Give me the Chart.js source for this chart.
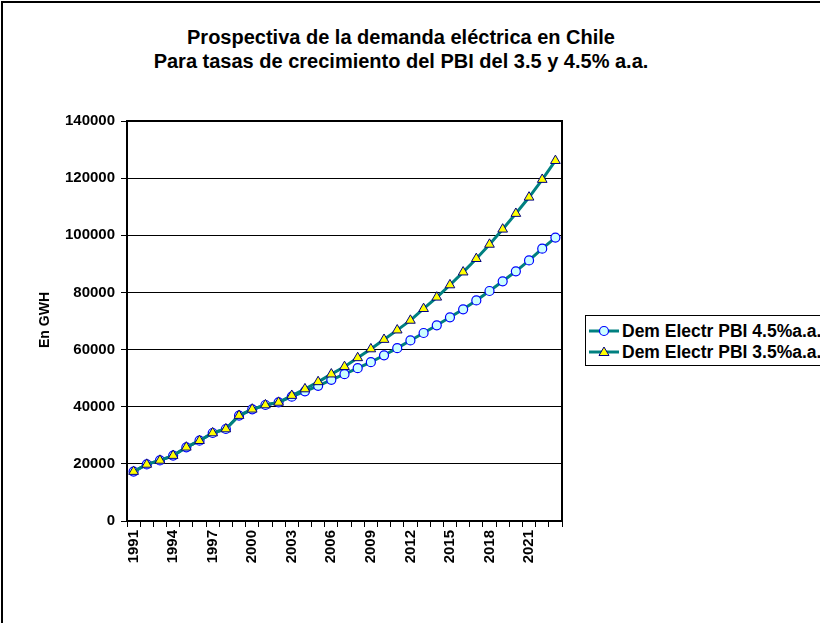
<!DOCTYPE html>
<html>
<head>
<meta charset="utf-8">
<script src="https://cdn.jsdelivr.net/npm/chart.js@4"></script>
<style>
  body { margin: 0; background: #fff; overflow: hidden; font-family: Arial, "Liberation Sans", sans-serif; }
  #frame { position: absolute; left: 1px; top: 1px; width: 1000px; height: 1000px; border-left: 2px solid #000; border-top: 2px solid #000; }
  #wrap { position: absolute; left: 0; top: 0; width: 820px; height: 623px; }
  #title { position: absolute; left: 0; width: 802px; top: 25px; text-align: center; font-weight: bold; font-size: 20px; line-height: 24px; color: #000; }
  #ytitle { position: absolute; left: 44px; top: 320px; transform: translate(-50%, -50%) rotate(-90deg); font-weight: bold; font-size: 14px; white-space: nowrap; color: #000; }
  #legend { position: absolute; left: 585px; top: 315px; width: 300px; height: 49px; border: 1px solid #000; background: #fff; }
  .row { position: absolute; left: 3px; height: 20px; display: flex; align-items: center; font-weight: bold; font-size: 17.5px; white-space: nowrap; }
  .row svg { margin-right: 3px; }
</style>
</head>
<body>
<div id="frame"></div>
<div id="title">Prospectiva de la demanda eléctrica en Chile<br>Para tasas de crecimiento del PBI del 3.5 y 4.5% a.a.</div>
<div id="wrap"><canvas id="chart"></canvas></div>
<div id="ytitle">En GWH</div>
<div id="legend">
  <div class="row" style="top:5px">
    <svg width="30" height="20"><line x1="0" y1="10" x2="30" y2="10" stroke="#008080" stroke-width="3"/><circle cx="15" cy="10" r="4.5" fill="#CCFFFF" stroke="#0000FF" stroke-width="1.2"/></svg>
    Dem Electr PBI 4.5%a.a.
  </div>
  <div class="row" style="top:26px">
    <svg width="30" height="20"><line x1="0" y1="10" x2="30" y2="10" stroke="#008080" stroke-width="3"/><polygon points="15,5 20,13.5 10,13.5" fill="#FFFF00" stroke="#000080" stroke-width="1"/></svg>
    Dem Electr PBI 3.5%a.a.
  </div>
</div>
<script>
// years on the x axis
const years = ['1991', '1992', '1993', '1994', '1995', '1996', '1997', '1998', '1999', '2000',
  '2001', '2002', '2003', '2004', '2005', '2006', '2007', '2008', '2009', '2010',
  '2011', '2012', '2013', '2014', '2015', '2016', '2017', '2018', '2019', '2020',
  '2021', '2022', '2023']

// demand in GWH
const demPbi45 = [17300, 19800, 21200, 22900, 25800, 28100, 30800, 32200, 36900, 39100,
  40600, 41500, 43500, 45400, 47300, 49400, 51400, 53500, 55600, 58000,
  60500, 63200, 65800, 68500, 71300, 74100, 77200, 80500, 83900, 87400,
  91200, 95300, 99200]
const demPbi35 = [17300, 19800, 21200, 22900, 25800, 28100, 30800, 32200, 36900, 39100,
  40600, 41500, 43900, 46200, 48700, 51400, 54000, 57100, 60200, 63500,
  66800, 70200, 74300, 78300, 82600, 87100, 91800, 96800, 102100, 107600,
  113300, 119500, 126100]

const FONT = 'Arial, "Liberation Sans", sans-serif'

// frame round the plot area
const plotBorder = {
  id: 'plotBorder',
  afterDraw(chart) {
    const {ctx, chartArea: a} = chart
    ctx.save()
    ctx.strokeStyle = '#000'
    ctx.lineWidth = 2
    ctx.strokeRect(a.left, a.top, a.right - a.left, a.bottom - a.top)
    ctx.restore()
  }
}

new Chart(document.getElementById('chart'), {
  type: 'line',
  data: {
    labels: years,
    datasets: [
      {
        label: 'Dem Electr PBI 4.5%a.a.',
        data: demPbi45,
        order: 1,
        borderColor: '#008080',
        borderWidth: 3,
        pointStyle: 'circle',
        pointRadius: 4.5,
        pointBorderWidth: 1.2,
        pointBorderColor: '#0000FF',
        pointBackgroundColor: '#CCFFFF',
        tension: 0
      },
      {
        label: 'Dem Electr PBI 3.5%a.a.',
        data: demPbi35,
        order: 0,
        borderColor: '#008080',
        borderWidth: 3,
        pointStyle: 'triangle',
        pointRadius: 5.6,
        pointBorderWidth: 1,
        pointBorderColor: '#000080',
        pointBackgroundColor: '#FFFF00',
        tension: 0
      }
    ]
  },
  options: {
    responsive: true,
    maintainAspectRatio: false,
    animation: false,
    layout: { padding: { top: 121, right: 258, bottom: 0, left: 0 } },
    plugins: {
      legend: { display: false },
      title: { display: false },
      tooltip: { enabled: false }
    },
    scales: {
      x: {
        offset: true,
        afterFit(scale) { scale.height = 102 },
        grid: { offset: true, drawOnChartArea: false, color: '#000', tickLength: 6 },
        border: { color: '#000', width: 2 },
        ticks: {
          autoSkip: false,
          maxRotation: 90,
          minRotation: 90,
          padding: 3,
          color: '#000',
          font: { family: FONT, size: 15, weight: 'bold' },
          callback: (v, i) => i % 3 === 0 ? years[i] : ''
        }
      },
      y: {
        min: 0,
        max: 140000,
        afterFit(scale) { scale.width = 127 },
        grid: { color: '#000', tickLength: 6 },
        border: { color: '#000', width: 2 },
        ticks: {
          stepSize: 20000,
          padding: 6,
          color: '#000',
          font: { family: FONT, size: 15, weight: 'bold' },
          callback: v => String(v)
        }
      }
    }
  },
  plugins: [plotBorder]
})
</script>
</body>
</html>
